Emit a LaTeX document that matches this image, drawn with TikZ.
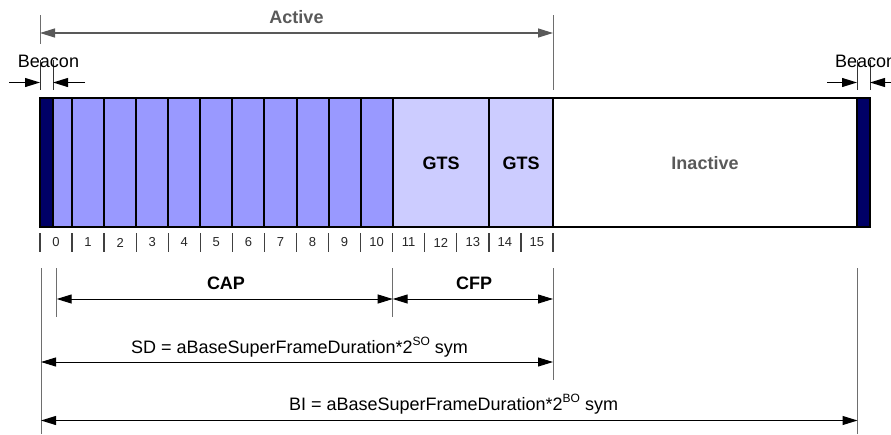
\documentclass[tikz,border=0pt]{standalone}
\usepackage{fontspec}
\setmainfont{Liberation Sans}
\usetikzlibrary{arrows.meta}
\definecolor{beaconc}{HTML}{000066}
\definecolor{capc}{HTML}{9999FF}
\definecolor{gtsc}{HTML}{CCCCFF}
\definecolor{greyc}{HTML}{595959}
\definecolor{extc}{HTML}{6E6E6E}
\tikzset{
  bigtxt/.style={font=\fontsize{18}{20}\selectfont, inner sep=0pt},
  boldtxt/.style={font=\fontsize{18}{20}\selectfont\bfseries, inner sep=0pt},
  numtxt/.style={font=\fontsize{13}{14}\selectfont, text=black!85, inner sep=0pt},
  divline/.style={line width=2pt, black},
  tickline/.style={line width=1.3pt, black!75},
  extline/.style={line width=1pt, extc},
  dimboth/.style={line width=1pt, black, {Triangle[length=15pt,width=9pt]}-{Triangle[length=15pt,width=9pt]}},
  dimone/.style={line width=1pt, black, -{Triangle[length=15pt,width=9pt]}},
  actdim/.style={line width=1.3pt, greyc, {Triangle[length=15pt,width=9pt]}-{Triangle[length=15pt,width=9pt]}}
}
\newcommand{\supx}[1]{\raisebox{0.42em}{\fontsize{12}{12}\selectfont #1}}
\begin{document}
\begin{tikzpicture}[x=1pt,y=-1pt]
\useasboundingbox (0,0) rectangle (891,434);
% ---- frame fills
\fill[capc] (53,98) rectangle (392.7,227);
\fill[gtsc] (392.7,98) rectangle (553,227);
\fill[beaconc] (40,98) rectangle (53,227);
\fill[beaconc] (857,98) rectangle (870,227);
% ---- slot dividers
\foreach \i in {1,...,11,14,16} \draw[divline] ({40+32.0625*\i},98) -- ({40+32.0625*\i},227);
\draw[divline] (53,98) -- (53,227);
\draw[divline] (857,98) -- (857,227);
\draw[line width=2.2pt] (40,98) rectangle (870,227);
% ---- labels in frame
\node[boldtxt] (gts1) at (441,163) {GTS};
\node[boldtxt] (gts2) at (521,163) {GTS};
\node[boldtxt, text=greyc] (inact) at (705,163) {Inactive};
% ---- slot numbers and ticks
\foreach \i in {0,...,16} \draw[tickline] ({40+32.0625*\i},233) -- ({40+32.0625*\i},252);
\foreach \i in {0,...,15} \node[numtxt] (n\i) at ({56+32.0625*\i},242.5) {\i};
% ---- Active
\coordinate (actL) at (40,33);
\coordinate (actR) at (553,33);
\draw[extline] (40,15) -- (40,44);
\draw[extline] (553,15) -- (553,90);
\draw[actdim] (actL) -- (actR);
\node[boldtxt, text=greyc] (active) at (296.5,17) {Active};
% ---- Beacon left
\draw[extline, black!80] (40,60) -- (40,90);
\draw[extline, black!80] (53,60) -- (53,90);
\coordinate (bl1) at (9,82.5);
\coordinate (bl2) at (40,82.5);
\coordinate (bl3) at (85,82.5);
\coordinate (bl4) at (53,82.5);
\draw[dimone] (bl1) -- (bl2);
\draw[dimone] (bl3) -- (bl4);
\node[bigtxt, anchor=base] (beaconL) at (48.5,67) {Beacon};
% ---- Beacon right
\draw[extline, black!80] (857,60) -- (857,90);
\draw[extline, black!80] (870,60) -- (870,90);
\coordinate (br1) at (827,82.5);
\coordinate (br2) at (857,82.5);
\coordinate (br3) at (900,82.5);
\coordinate (br4) at (870,82.5);
\draw[dimone] (br1) -- (br2);
\draw[dimone] (br3) -- (br4);
\node[bigtxt, anchor=base west] (beaconR) at (835,67) {Beacon};
% ---- extension lines below
\draw[extline] (41,268) -- (41,434);
\draw[extline] (56.7,268) -- (56.7,317);
\draw[extline] (392.7,268) -- (392.7,317);
\draw[extline] (553,268) -- (553,380);
\draw[extline] (857.5,268) -- (857.5,434);
% ---- CAP / CFP
\coordinate (capL) at (56.7,299);
\coordinate (capR) at (392.7,299);
\coordinate (cfpR) at (553,299);
\draw[dimboth] (capL) -- (capR);
\draw[dimboth] (capR) -- (cfpR);
\node[boldtxt] (cap) at (226,283) {CAP};
\node[boldtxt] (cfp) at (474,283) {CFP};
% ---- SD
\coordinate (sdL) at (41,362);
\coordinate (sdR) at (553,362);
\draw[dimboth] (sdL) -- (sdR);
\node[bigtxt, anchor=base] (sd) at (299.5,353) {SD = aBaseSuperFrameDuration*2\supx{SO} sym};
% ---- BI
\coordinate (biL) at (41,420.5);
\coordinate (biR) at (857.5,420.5);
\draw[dimboth] (biL) -- (biR);
\node[bigtxt, anchor=base] (bi) at (453.5,410.5) {BI = aBaseSuperFrameDuration*2\supx{BO} sym};
\end{tikzpicture}
\end{document}
